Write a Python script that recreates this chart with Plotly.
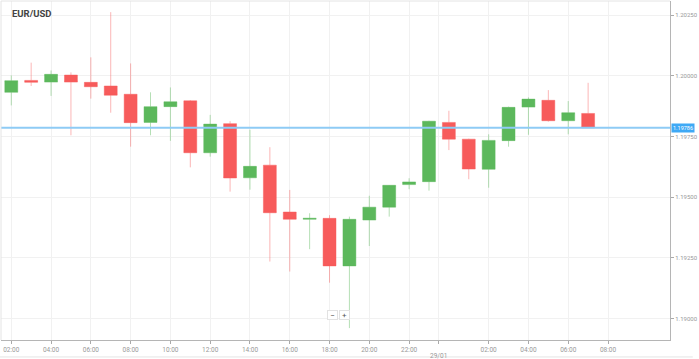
import plotly.graph_objects as go

times = [
    "2021-01-28 02:00", "2021-01-28 03:00", "2021-01-28 04:00", "2021-01-28 05:00",
    "2021-01-28 06:00", "2021-01-28 07:00", "2021-01-28 08:00", "2021-01-28 09:00",
    "2021-01-28 10:00", "2021-01-28 11:00", "2021-01-28 12:00", "2021-01-28 13:00",
    "2021-01-28 14:00", "2021-01-28 15:00", "2021-01-28 16:00", "2021-01-28 17:00",
    "2021-01-28 18:00", "2021-01-28 19:00", "2021-01-28 20:00", "2021-01-28 21:00",
    "2021-01-28 22:00", "2021-01-28 23:00", "2021-01-29 00:00", "2021-01-29 01:00",
    "2021-01-29 02:00", "2021-01-29 03:00", "2021-01-29 04:00", "2021-01-29 05:00",
    "2021-01-29 06:00", "2021-01-29 07:00",
]
open_ = [1.19932, 1.19981, 1.19974, 1.20003, 1.19973, 1.19958, 1.19924, 1.19808,
         1.19873, 1.19897, 1.19683, 1.19803, 1.19580, 1.19632, 1.19439, 1.19409,
         1.19413, 1.19217, 1.19406, 1.19459, 1.19552, 1.19564, 1.19808, 1.19739,
         1.19615, 1.19733, 1.19871, 1.19899, 1.19815, 1.19845]
high = [1.20002, 1.20054, 1.20022, 1.20014, 1.20076, 1.20262, 1.20051, 1.19932,
        1.19952, 1.19900, 1.19839, 1.19813, 1.19778, 1.19706, 1.19530, 1.19434,
        1.19426, 1.19420, 1.19506, 1.19550, 1.19578, 1.19815, 1.19856, 1.19741,
        1.19759, 1.19873, 1.19911, 1.19941, 1.19896, 1.19971]
low = [1.19878, 1.19958, 1.19917, 1.19755, 1.19906, 1.19848, 1.19708, 1.19755,
       1.19732, 1.19623, 1.19667, 1.19523, 1.19531, 1.19235, 1.19194, 1.19286,
       1.19148, 1.18961, 1.19299, 1.19420, 1.19533, 1.19527, 1.19694, 1.19574,
       1.19539, 1.19708, 1.19757, 1.19811, 1.19759, 1.19786]
close = [1.19980, 1.19973, 1.20006, 1.19974, 1.19955, 1.19920, 1.19807, 1.19873,
         1.19893, 1.19683, 1.19801, 1.19579, 1.19627, 1.19436, 1.19409, 1.19413,
         1.19217, 1.19409, 1.19459, 1.19549, 1.19563, 1.19813, 1.19739, 1.19616,
         1.19734, 1.19870, 1.19904, 1.19815, 1.19848, 1.19786]

x_tick_vals = ["2021-01-28 02:00", "2021-01-28 04:00", "2021-01-28 06:00", "2021-01-28 08:00",
               "2021-01-28 10:00", "2021-01-28 12:00", "2021-01-28 14:00", "2021-01-28 16:00",
               "2021-01-28 18:00", "2021-01-28 20:00", "2021-01-28 22:00", "2021-01-28 23:29",
               "2021-01-29 02:00", "2021-01-29 04:00", "2021-01-29 06:00", "2021-01-29 08:00"]
x_tick_text = ["02:00", "04:00", "06:00", "08:00", "10:00", "12:00", "14:00", "16:00",
               "18:00", "20:00", "22:00", "", "02:00", "04:00", "06:00", "08:00"]
date_label = "29/01"
date_label_x = "2021-01-28 23:29"

y_tick_vals = [1.19000, 1.19250, 1.19500, 1.19750, 1.20000, 1.20250]
y_tick_text = ["1.19000", "1.19250", "1.19500", "1.19750", "1.20000", "1.20250"]

title = "EUR/USD"
last_price = close[-1]
last_price_text = "1.19786"

GREEN = "#5cb85c"
RED = "#f75b5b"

fig = go.Figure()
fig.add_trace(go.Candlestick(
    x=times, open=open_, high=high, low=low, close=close,
    increasing=dict(fillcolor=GREEN, line=dict(color="rgba(92,184,92,0.45)", width=1)),
    decreasing=dict(fillcolor=RED, line=dict(color="rgba(247,91,91,0.45)", width=1)),
    whiskerwidth=0,
    hoverinfo="skip",
))

fig.update_layout(
    width=699, height=359,
    margin=dict(l=1, r=22, t=1, b=19),
    paper_bgcolor="white", plot_bgcolor="white",
    showlegend=False,
    hovermode=False,
    boxgap=0.35, boxgroupgap=0,
    font=dict(family="Roboto, sans-serif", color="#999999"),
    xaxis=dict(
        type="date",
        range=["2021-01-28 01:29", "2021-01-29 11:07"],
        rangeslider=dict(visible=False),
        tickmode="array", tickvals=x_tick_vals, ticktext=x_tick_text,
        showgrid=True, gridcolor="#f1f1f1", gridwidth=1,
        ticks="outside", ticklen=3, tickcolor="#aaaaaa",
        showline=True, linecolor="#b5b5b5", linewidth=1,
        tickfont=dict(size=6.5, color="#999999"),
        zeroline=False, fixedrange=True,
    ),
    yaxis=dict(
        side="right",
        range=[1.18912, 1.20308],
        tickmode="array", tickvals=y_tick_vals, ticktext=y_tick_text,
        showgrid=True, gridcolor="#f1f1f1", gridwidth=1,
        ticks="outside", ticklen=3, tickcolor="#aaaaaa",
        showline=True, linecolor="#b5b5b5", linewidth=1,
        tickfont=dict(size=6, color="#999999"),
        zeroline=False, fixedrange=True,
    ),
    shapes=[
        dict(type="line", xref="paper", yref="y", x0=0, x1=1, y0=last_price, y1=last_price,
             line=dict(color="#8ecbf5", width=2)),
        dict(type="line", xref="paper", yref="paper", x0=0, x1=1, y0=1, y1=1,
             line=dict(color="#e4e4e4", width=1)),
        dict(type="line", xref="paper", yref="paper", x0=0, x1=0, y0=0, y1=1,
             line=dict(color="#e4e4e4", width=1)),
        dict(type="line", xref="paper", yref="paper", x0=-0.002, x1=1.034, y0=-0.05, y1=-0.05,
             line=dict(color="#e4e4e4", width=1)),
    ],
    annotations=[
        dict(text="<b>" + title + "</b>", xref="paper", yref="paper", x=0.013, y=0.985,
             xanchor="left", yanchor="top", showarrow=False,
             font=dict(size=9.5, color="#444444", family="Roboto, sans-serif")),
        dict(text=date_label, xref="x", yref="paper", x=date_label_x, y=0, yshift=-10,
             xanchor="center", yanchor="top", showarrow=False,
             font=dict(size=6.5, color="#999999")),
        dict(text=last_price_text, xref="paper", yref="y", x=1, y=last_price,
             xanchor="left", yanchor="middle", showarrow=False, xshift=1,
             bgcolor="#3fa9f5", borderpad=1, font=dict(size=5.5, color="white")),
        dict(text="−", xref="paper", yref="paper", x=0.4955, y=0.074,
             xanchor="center", yanchor="middle", showarrow=False,
             bgcolor="white", bordercolor="#e2e2e2", borderwidth=1, borderpad=0,
             width=9, height=8, font=dict(size=8, color="#555555")),
        dict(text="+", xref="paper", yref="paper", x=0.5135, y=0.074,
             xanchor="center", yanchor="middle", showarrow=False,
             bgcolor="white", bordercolor="#e2e2e2", borderwidth=1, borderpad=0,
             width=9, height=8, font=dict(size=8, color="#555555")),
    ],
)

fig.write_html(
    "out.html",
    config={"displayModeBar": False, "staticPlot": True},
    post_script="document.body.style.margin='0px';document.body.style.padding='0px';",
)
